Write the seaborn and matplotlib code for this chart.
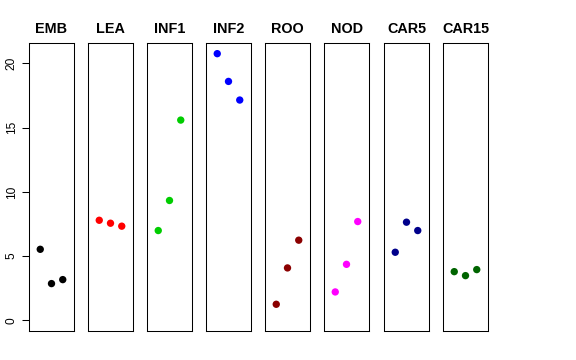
import numpy as np
import pandas as pd
import seaborn as sns
import matplotlib.pyplot as plt

# panel names and colours
groups = ["EMB", "LEA", "INF1", "INF2", "ROO", "NOD", "CAR5", "CAR15"]
colors = ["black", "red", "#00CD00", "blue", "#8B0000", "magenta", "#00008B", "#006400"]

# three values per panel
emb = [5.53, 2.86, 3.17]
lea = [7.79, 7.56, 7.33]
inf1 = [6.99, 9.33, 15.59]
inf2 = [20.76, 18.60, 17.15]
roo = [1.25, 4.08, 6.24]
nod = [2.21, 4.36, 7.69]
car5 = [5.30, 7.64, 6.99]
car15 = [3.79, 3.48, 3.95]
positions = [1, 2, 3]
y_ticks = [0, 5, 10, 15, 20]

values = [emb, lea, inf1, inf2, roo, nod, car5, car15]
df = pd.DataFrame({"group": np.repeat(groups, 3),
                   "pos": positions * len(groups),
                   "value": np.concatenate(values)})

sns.set_style("white")
plt.rcParams["font.family"] = ["Liberation Sans", "DejaVu Sans"]
plt.rcParams["text.color"] = "black"
plt.rcParams["ytick.color"] = "black"

fig = plt.figure(figsize=(5.76, 3.6), dpi=100)
W, H = 576, 360
ymax = df["value"].max()
pad = 0.04 * ymax

lefts = [29, 88, 147, 206, 265, 324, 384, 443]
for i, (g, c) in enumerate(zip(groups, colors)):
    ax = fig.add_axes([lefts[i] / W, 1 - 331 / H, 45 / W, 288 / H])
    sns.scatterplot(data=df[df["group"] == g], x="pos", y="value", color=c,
                    s=28, edgecolor="none", ax=ax, legend=False)
    ax.set_xlim(0, 4)
    ax.set_ylim(-pad, ymax + pad)
    ax.set_xlabel("")
    ax.set_ylabel("")
    ax.set_xticks([])
    ax.set_title(g, fontsize=10.4, fontweight="bold", pad=7, color="black")
    for s in ax.spines.values():
        s.set_visible(True)
        s.set_color("black")
        s.set_linewidth(0.75)
    if i == 0:
        ax.set_yticks(y_ticks)
        ax.set_yticklabels([str(t) for t in y_ticks], fontsize=8.6)
        ax.tick_params(axis="y", left=True, length=5, width=0.75, pad=3,
                       color="black", labelcolor="black", labelrotation=90)
        for lab in ax.get_yticklabels():
            lab.set_va("center")
    else:
        ax.set_yticks([])

fig.savefig("out.png", dpi=100)
